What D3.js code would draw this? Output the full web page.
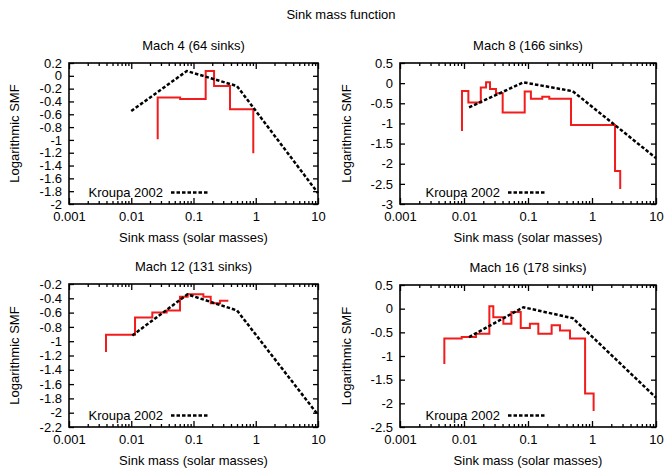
<!DOCTYPE html>
<html>
<head>
<meta charset="utf-8">
<script src="https://cdn.jsdelivr.net/npm/d3@7"></script>
<style>
  body { margin: 0; background: #fff; }
  svg { display: block; font-family: "Liberation Sans", Arial, Helvetica, sans-serif; }
  text { fill: #000; }
</style>
</head>
<body>
<svg id="chart" width="664" height="470"></svg>
<script>
// values (x = sink mass in solar masses, y = log SMF)
const mainTitle = "Sink mass function";
const panelTitles = ["Mach 4 (64 sinks)", "Mach 8 (166 sinks)", "Mach 12 (131 sinks)", "Mach 16 (178 sinks)"];
const xTickValues = [0.001, 0.01, 0.1, 1, 10];
const xTickLabels = ["0.001", "0.01", "0.1", "1", "10"];

const yTicksM4 = [0.2, 0, -0.2, -0.4, -0.6, -0.8, -1, -1.2, -1.4, -1.6, -1.8, -2];
const yTicksM8 = [0.5, 0, -0.5, -1, -1.5, -2, -2.5, -3];
const yTicksM12 = [-0.2, -0.4, -0.6, -0.8, -1, -1.2, -1.4, -1.6, -1.8, -2, -2.2];
const yTicksM16 = [0.5, 0, -0.5, -1, -1.5, -2, -2.5];

// histogram steps: [bin edge, level] (first/last give the end drops)
const smfM4 = [[0.0266, -0.99], [0.0266, -0.34], [0.061, -0.36], [0.157, 0.075], [0.214, -0.16], [0.386, -0.52], [0.913, -1.21]];
const smfM8 = [[0.0093, -1.19], [0.0093, -0.195], [0.0117, -0.48], [0.0183, -0.11], [0.0221, 0.02], [0.0255, -0.145],
               [0.0316, -0.25], [0.0402, -0.73], [0.0888, -0.21], [0.111, -0.39], [0.167, -0.34], [0.215, -0.39],
               [0.47, -1.04], [2.29, -2.18], [2.76, -2.63]];
const smfM12 = [[0.00393, -1.15], [0.00393, -0.91], [0.0115, -0.67], [0.0218, -0.6], [0.0371, -0.57], [0.0607, -0.38],
                [0.0806, -0.345], [0.144, -0.38], [0.189, -0.47], [0.267, -0.435], [0.363, -0.435]];
const smfM16 = [[0.00493, -1.17], [0.00493, -0.63], [0.0092, -0.6], [0.0154, -0.53], [0.0249, 0.05], [0.0287, -0.18],
                [0.0412, -0.32], [0.055, -0.07], [0.077, -0.41], [0.107, -0.32], [0.145, -0.53], [0.234, -0.35],
                [0.316, -0.46], [0.453, -0.63], [0.78, -1.79], [1.06, -2.16]];

// Kroupa 2002 reference curve
const kroupaM4 = [[0.01, -0.55], [0.078, 0.075], [0.5, -0.16], [10, -1.83]];
const kroupaM8 = [[0.012, -0.6], [0.085, 0.02], [0.5, -0.2], [10, -1.86]];
const kroupaM12 = [[0.0104, -0.92], [0.08, -0.345], [0.5, -0.57], [10, -2.03]];
const kroupaM16 = [[0.012, -0.6], [0.085, 0.03], [0.5, -0.2], [10, -1.88]];

const panels = [
  { title: panelTitles[0], yDomain: [-2, 0.2], yTicks: yTicksM4, smf: smfM4, kroupa: kroupaM4,
    left: 69, right: 318, top: 63, bottom: 204, yTitleX: 15, legendX: 171 },
  { title: panelTitles[1], yDomain: [-3, 0.5], yTicks: yTicksM8, smf: smfM8, kroupa: kroupaM8,
    left: 400, right: 656, top: 63, bottom: 204, yTitleX: 347, legendX: 508 },
  { title: panelTitles[2], yDomain: [-2.2, -0.2], yTicks: yTicksM12, smf: smfM12, kroupa: kroupaM12,
    left: 69, right: 318, top: 284, bottom: 427, yTitleX: 15, legendX: 171 },
  { title: panelTitles[3], yDomain: [-2.5, 0.5], yTicks: yTicksM16, smf: smfM16, kroupa: kroupaM16,
    left: 400, right: 656, top: 285, bottom: 427, yTitleX: 347, legendX: 508 }
];

const svg = d3.select('#chart');
svg.append('rect').attr('width', 664).attr('height', 470).attr('fill', '#fff');

svg.append('text')
  .attr('x', 341).attr('y', 19)
  .attr('text-anchor', 'middle')
  .style('font-size', '13px')
  .text(mainTitle);

const fmt = d => String(+d.toFixed(1));

panels.forEach(p => {
  const w = p.right - p.left, h = p.bottom - p.top;
  const x = d3.scaleLog().domain([0.001, 10]).range([0, w]);
  const y = d3.scaleLinear().domain(p.yDomain).range([h, 0]);
  const minor = x.ticks().filter(v => !xTickValues.some(t => Math.abs(t - v) / t < 1e-6));

  const g = svg.append('g').attr('transform', `translate(${p.left},${p.top})`);

  // panel title + axis titles
  svg.append('text')
    .attr('x', (p.left + p.right) / 2).attr('y', p.top - 13)
    .attr('text-anchor', 'middle').style('font-size', '13px')
    .text(p.title);
  svg.append('text')
    .attr('x', (p.left + p.right) / 2).attr('y', p.bottom + 38)
    .attr('text-anchor', 'middle').style('font-size', '13px')
    .text('Sink mass (solar masses)');
  svg.append('text')
    .attr('transform', `translate(${p.yTitleX + 4},${(p.top + p.bottom) / 2}) rotate(-90)`)
    .attr('text-anchor', 'middle').style('font-size', '13px')
    .text('Logarithmic SMF');

  // axes, ticks pointing inward on all four sides
  const axes = [
    [d3.axisLeft(y).tickValues(p.yTicks).tickSize(-5).tickPadding(7).tickFormat(fmt), 0, 0],
    [d3.axisRight(y).tickValues(p.yTicks).tickSize(-5).tickFormat(''), w, 0],
    [d3.axisBottom(x).tickValues(xTickValues).tickSize(-6).tickPadding(8).tickFormat((d, i) => xTickLabels[i]), 0, h],
    [d3.axisBottom(x).tickValues(minor).tickSize(-3).tickFormat(''), 0, h],
    [d3.axisTop(x).tickValues(xTickValues).tickSize(-6).tickFormat(''), 0, 0],
    [d3.axisTop(x).tickValues(minor).tickSize(-3).tickFormat(''), 0, 0]
  ];
  axes.forEach(([ax, tx, ty]) => {
    const a = g.append('g').attr('transform', `translate(${tx},${ty})`).call(ax);
    a.select('.domain').remove();
    a.selectAll('line').attr('stroke', '#000').attr('stroke-width', 1.3);
    a.selectAll('text').style('font-size', '13px').attr('fill', '#000').style('font-family', null);
  });

  g.append('rect')
    .attr('width', w).attr('height', h)
    .attr('fill', 'none').attr('stroke', '#000').attr('stroke-width', 1.6);

  const line = d3.line().x(d => x(d[0])).y(d => y(d[1]));

  g.append('path')
    .datum(p.smf)
    .attr('d', line.curve(d3.curveStepAfter))
    .attr('fill', 'none').attr('stroke', '#f21c1c').attr('stroke-width', 2);

  g.append('path')
    .datum(p.kroupa)
    .attr('d', d3.line().x(d => x(d[0])).y(d => y(d[1])))
    .attr('fill', 'none').attr('stroke', '#000').attr('stroke-width', 2.5)
    .attr('stroke-dasharray', '3.5,2');

  // key
  const ly = h - 11.5;
  const lx = p.legendX - p.left;
  g.append('text')
    .attr('x', lx - 8).attr('y', ly + 4.5)
    .attr('text-anchor', 'end').style('font-size', '13px')
    .text('Kroupa 2002');
  g.append('line')
    .attr('x1', lx).attr('x2', lx + 37).attr('y1', ly).attr('y2', ly)
    .attr('stroke', '#000').attr('stroke-width', 2.5).attr('stroke-dasharray', '3.5,2');
});
</script>
</body>
</html>
